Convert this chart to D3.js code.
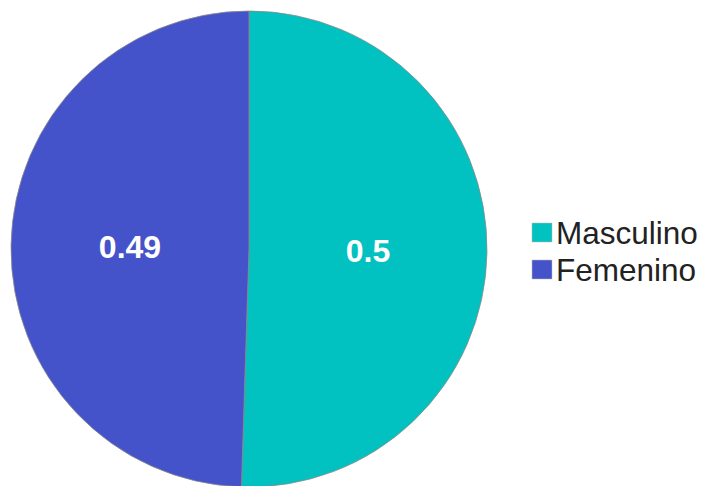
<!DOCTYPE html>
<html><head><meta charset="utf-8">
<script src="https://cdn.jsdelivr.net/npm/d3@7"></script>
<style>html,body{margin:0;padding:0;background:#fff;}svg{display:block;}</style>
</head><body>
<script>
const categories = ["Masculino", "Femenino"];
const values = [0.5, 0.49];
const colors = ["#02C1C1", "#4553CA"];

const W = 704, H = 486;
const cx = 249, cy = 249, R = 238;
const svg = d3.select("body").append("svg").attr("width", W).attr("height", H);
const g = svg.append("g").attr("transform", `translate(${cx},${cy})`);

const pie = d3.pie().sort(null).value(d => d.v);
const data = categories.map((c, i) => ({c, v: values[i], col: colors[i]}));
const arcs = pie(data);
const arc = d3.arc().innerRadius(0).outerRadius(R);
const labelArc = d3.arc().innerRadius(R / 2).outerRadius(R / 2);

g.selectAll("path").data(arcs).join("path")
  .attr("d", arc).attr("fill", d => d.data.col)
  .attr("stroke", "#8a8a8a").attr("stroke-width", 0.8);

g.selectAll("text").data(arcs).join("text")
  .attr("transform", d => { const [x, y] = labelArc.centroid(d); return `translate(${x},${y})`; })
  .attr("text-anchor", "middle").attr("dominant-baseline", "central")
  .attr("font-family", "Liberation Sans, Arial, sans-serif")
  .attr("font-weight", "bold").attr("font-size", 32).attr("fill", "#fff")
  .text(d => d.data.v);

const leg = svg.append("g").attr("transform", "translate(532,223)");
const items = leg.selectAll("g").data(data).join("g")
  .attr("transform", (d, i) => `translate(0,${i * 37})`);
items.append("rect").attr("width", 20).attr("height", 19).attr("fill", d => d.col)
  .attr("stroke", "#bbb").attr("stroke-width", 0.5);
items.append("text").attr("x", 24).attr("y", 21)
  .attr("font-family", "Liberation Sans, Arial, sans-serif")
  .attr("font-size", 31.5).attr("fill", "#222").text(d => d.c);
</script>
</body></html>
